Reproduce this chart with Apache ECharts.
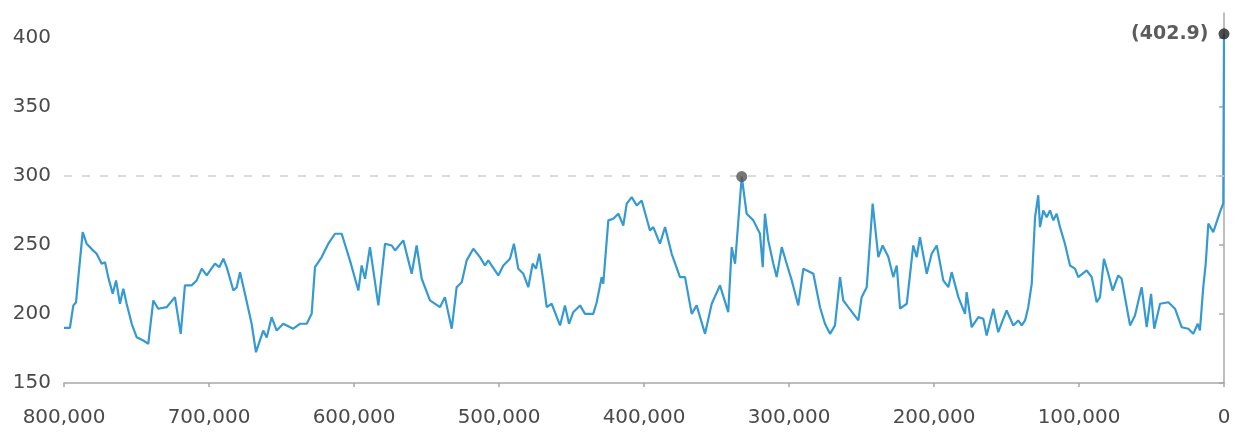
<!DOCTYPE html>
<html>
<head>
<meta charset="utf-8">
<script src="https://cdn.jsdelivr.net/npm/echarts@6/dist/echarts.min.js"></script>
<style>
  html, body { margin: 0; padding: 0; background: #fff; }
  #chart { width: 1240px; height: 434px; }
</style>
</head>
<body>
<div id="chart"></div>
<script>
// Atmospheric CO2 (ppm) over the last 800,000 years: [years before present, ppm]
const years = [
  800000, 795900, 793600, 791700, 790100, 787100, 784400, 780900, 777500, 774000,
  771700, 769500, 766400, 764100, 761400, 759100, 756800, 753300, 749900, 745300,
  741900, 738400, 735000, 729200, 723500, 719500, 716600, 712000, 708500, 705000,
  701600, 695900, 692900, 690100, 687800, 683200, 680900, 678600, 675200, 670600,
  667600, 662600, 660200, 656800, 653300, 648800, 641900, 637300, 632600, 629200,
  626900, 622300, 617700, 613100, 608500, 602800, 597000, 594700, 592400, 589000,
  583200, 578600, 574000, 571700, 566000, 560200, 556800, 553300, 547600, 540700,
  537300, 532600, 529200, 525700, 522300, 517700, 513100, 509700, 507400, 500500,
  497000, 492400, 489700, 486700, 483200, 479800, 476800, 474500, 472200, 469500,
  467100, 463700, 457900, 454500, 451700, 448800, 444100, 440700, 435000, 432600,
  429200, 428100, 424600, 421200, 417700, 414300, 411900, 408500, 405000, 401600,
  395900, 393600, 389000, 385500, 380900, 375200, 371700, 367100, 363700, 357900,
  353300, 347600, 341900, 339500, 337200, 332600, 329200, 324600, 320000, 318100,
  316600, 314300, 310800, 308500, 305000, 301600, 298100, 293600, 290100, 283200,
  278600, 275200, 271700, 268300, 264800, 262600, 259100, 252200, 249900, 246400,
  242300, 238400, 235400, 231500, 228100, 225700, 223400, 218800, 214300, 211900,
  209700, 205000, 201600, 198100, 193600, 190100, 187800, 183200, 178600, 177500,
  174000, 169400, 166000, 163700, 159100, 155700, 152200, 149900, 145300, 141900,
  139500, 137200, 135000, 132600, 130300, 128100, 126900, 124600, 122300, 120000,
  117700, 115400, 113100, 109700, 106200, 102800, 100500, 94700, 91200, 87800,
  85500, 82800, 79800, 76800, 72900, 70600, 64800, 61400, 56800, 53300,
  50300, 48100, 44100, 38400, 33800, 29200, 24600, 21200, 18100, 16600,
  14300, 12600, 10800, 7400, 2800, 500, 0
];
const co2 = [
  190.0, 190.0, 206.0, 208.5, 226.7, 259.3, 250.9, 247.0, 243.6, 236.4,
  237.5, 226.7, 214.6, 224.3, 207.4, 218.3, 207.4, 192.9, 183.2, 180.8,
  178.4, 209.8, 203.8, 204.9, 212.2, 185.6, 220.7, 220.7, 224.3, 232.8,
  227.9, 236.4, 233.9, 240.0, 233.9, 217.0, 219.4, 230.3, 214.6, 192.9,
  172.3, 188.0, 183.0, 197.7, 188.0, 192.9, 189.3, 192.9, 192.9, 200.1,
  233.9, 241.2, 250.9, 258.1, 258.1, 238.8, 217.0, 235.1, 225.5, 248.4,
  206.2, 250.9, 249.6, 246.0, 253.3, 229.1, 249.6, 225.5, 209.8, 204.9,
  212.2, 189.3, 219.4, 223.0, 238.8, 247.2, 241.2, 235.1, 238.8, 227.9,
  235.1, 240.0, 250.9, 232.8, 229.1, 219.4, 236.4, 232.8, 243.6, 224.3,
  204.9, 207.4, 191.7, 206.2, 192.9, 201.3, 206.2, 200.1, 200.1, 208.5,
  226.7, 221.9, 267.8, 269.0, 272.6, 264.1, 279.9, 284.6, 278.6, 282.2,
  260.5, 262.9, 250.9, 262.9, 243.6, 226.7, 226.7, 200.1, 206.2, 185.6,
  207.4, 220.7, 201.3, 248.4, 236.4, 299.5, 272.6, 267.8, 258.1, 233.9,
  272.6, 253.3, 236.4, 226.7, 248.4, 236.4, 224.3, 206.2, 232.8, 229.1,
  204.9, 192.9, 185.6, 191.7, 226.7, 209.8, 204.9, 195.3, 212.2, 219.4,
  279.9, 241.2, 249.6, 241.2, 226.7, 235.1, 203.8, 207.4, 249.6, 241.2,
  255.6, 229.1, 243.6, 249.6, 224.3, 219.4, 230.3, 212.2, 200.1, 215.8,
  190.4, 197.7, 196.5, 184.4, 203.8, 186.8, 196.5, 202.5, 191.7, 195.3,
  191.7, 195.3, 204.9, 221.9, 270.1, 286.0, 262.9, 275.0, 270.1, 275.0,
  267.8, 272.6, 262.9, 250.9, 235.1, 232.8, 226.7, 231.5, 226.7, 208.5,
  212.2, 240.0, 229.1, 217.0, 227.9, 225.5, 191.7, 198.9, 219.4, 190.4,
  214.6, 189.3, 207.4, 208.5, 203.8, 190.4, 189.3, 185.6, 192.9, 188.0,
  219.4, 236.4, 265.4, 259.3, 273.8, 280.0, 402.9
];

// Highlighted readings: the earlier interglacial peak and the present-day value
const markerYears = [332600, 0];
const markerValues = [299.5, 402.9];
const markerLabels = ['', '(402.9)'];

// Reference level and axis ticks
const referenceLevel = 300;
const yTicks = [150, 200, 250, 300, 350, 400];
const xTicks = [800000, 700000, 600000, 500000, 400000, 300000, 200000, 100000, 0];

const fontFamily = '"DejaVu Sans", Verdana, sans-serif';
const axisGrey = '#a8a8a8';
const textGrey = '#4a4a4a';

const lineData = years.map((y, i) => [y, co2[i]]);
const markerColors = ['#555555', '#222222'];
const markerData = markerYears.map((y, i) => ({
  value: [y, markerValues[i]],
  itemStyle: { color: markerColors[i] },
  label: {
    show: markerLabels[i] !== '',
    formatter: markerLabels[i],
    position: 'left',
    distance: 10,
    color: '#333333',
    fontFamily: fontFamily,
    fontSize: 19,
    fontWeight: 'bold'
  }
}));

const chart = echarts.init(document.getElementById('chart'), null, { renderer: 'canvas' });
chart.setOption({
  animation: false,
  backgroundColor: '#ffffff',
  grid: { left: 64, right: 16, top: 13, bottom: 51, containLabel: false },
  xAxis: {
    type: 'value',
    inverse: true,
    min: 0,
    max: 800000,
    interval: 100000,
    axisLine: { show: true, lineStyle: { color: axisGrey, width: 1.5 } },
    axisTick: { show: true, length: 4, customValues: xTicks, lineStyle: { color: axisGrey, width: 1.5 } },
    splitLine: { show: false },
    axisLabel: {
      customValues: xTicks,
      margin: 25,
      color: textGrey,
      fontFamily: fontFamily,
      fontSize: 20,
      formatter: v => v.toLocaleString('en-US')
    }
  },
  yAxis: {
    type: 'value',
    min: 150,
    max: 418,
    interval: 50,
    axisLine: { show: true, lineStyle: { color: axisGrey, width: 1.5 } },
    axisTick: { show: true, length: 5, customValues: yTicks, lineStyle: { color: axisGrey, width: 1.5 } },
    splitLine: { show: false },
    axisLabel: {
      customValues: yTicks,
      margin: 13,
      color: textGrey,
      fontFamily: fontFamily,
      fontSize: 20
    }
  },
  series: [
    {
      type: 'line',
      data: lineData,
      showSymbol: false,
      symbol: 'none',
      lineStyle: { color: '#3599d2', width: 2.2 },
      z: 3,
      markLine: {
        silent: true,
        symbol: 'none',
        label: { show: false },
        lineStyle: { color: '#cfcfcf', type: [8, 10], width: 1.5 },
        data: [{ yAxis: referenceLevel }]
      }
    },
    {
      type: 'scatter',
      data: markerData,
      symbol: 'circle',
      symbolSize: 11,
      z: 5
    }
  ]
});
</script>
</body>
</html>
